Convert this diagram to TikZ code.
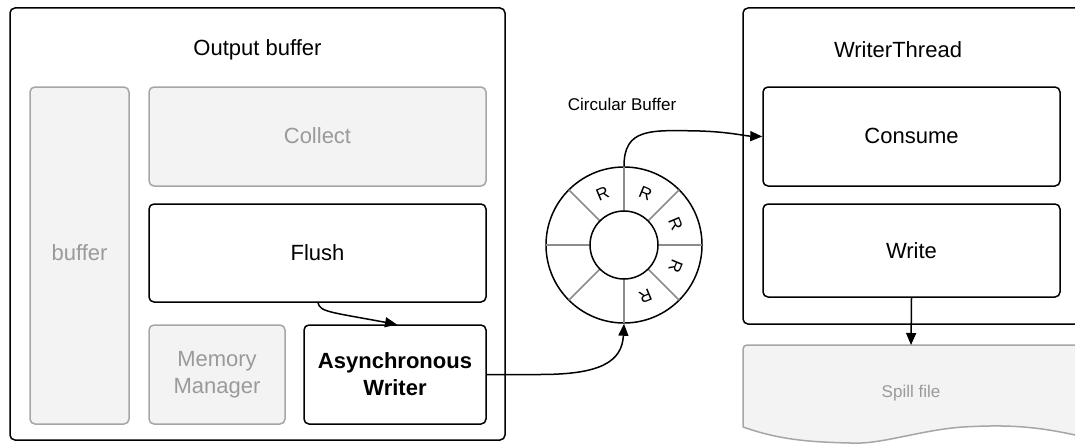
\documentclass[tikz,border=0pt]{standalone}
\usepackage{fontspec}
\setmainfont{Liberation Sans}
\usetikzlibrary{arrows.meta,calc}
\definecolor{lgfill}{HTML}{F3F3F3}
\definecolor{lgline}{HTML}{A6A6A6}
\definecolor{lgtext}{HTML}{9A9A9A}
\definecolor{spoke}{HTML}{8C8C8C}
\begin{document}
\begin{tikzpicture}[x=1pt,y=-1pt,
  bigfont/.style={font=\fontsize{22}{27}\selectfont},
  outerbox/.style={draw=black, line width=1.5pt, rounded corners=5pt, fill=white},
  blackbox/.style={draw=black, line width=1.5pt, rounded corners=5pt, fill=white, bigfont, align=center, inner sep=0pt},
  graybox/.style={draw=lgline, line width=1.5pt, rounded corners=5pt, fill=lgfill, text=lgtext, bigfont, align=center, inner sep=0pt},
  conn/.style={line width=1.5pt, -{Triangle[length=12pt,width=10pt]}},
  rlabel/.style={font=\fontsize{17}{17}\selectfont, inner sep=0pt}
]
\clip (0,0) rectangle (1075,444);
\fill[white] (0,0) rectangle (1075,444);

% Output buffer
\draw[outerbox] (10,8) rectangle (505,440);
\node[bigfont] (obtitle) at (257.5,50) {Output buffer};
\node[graybox, minimum width=99pt, minimum height=337pt] (buffer) at (79.5,255.5) {\raisebox{6pt}{buffer}};
\node[graybox, minimum width=337pt, minimum height=99pt] (collect) at (317.5,136.5) {\raisebox{2pt}{Collect}};
\node[blackbox, minimum width=337pt, minimum height=98pt] (flush) at (317.5,253) {\raisebox{1pt}{Flush}};
\node[graybox, minimum width=136pt, minimum height=99pt] (mem) at (217,374.5) {Memory\\Manager};
\node[blackbox, minimum width=182pt, minimum height=99pt, font=\fontsize{22}{27}\selectfont\bfseries] (async) at (395,374.5) {Asynchronous\\Writer};

% WriterThread
\draw[outerbox] (743,8) rectangle (1090,324);
\node[bigfont] (wttitle) at (898,50) {WriterThread};
\node[blackbox, minimum width=297pt, minimum height=99pt] (consume) at (911.5,136.5) {\raisebox{2pt}{Consume}};
\node[blackbox, minimum width=297pt, minimum height=93pt] (write) at (911.5,250.5) {Write};

% Spill file
\draw[draw=lgline, line width=1.5pt, fill=lgfill, rounded corners=4pt]
  (743,427) -- (743,345) -- (1090,345) -- (1090,440)
  [sharp corners] -- (1075,435) .. controls (1030,425) and (1000,425) .. (963,427)
  .. controls (920,430) and (880,445) .. (850,443)
  .. controls (810,442) and (780,440) .. (743,427);
\node[font=\fontsize{17}{17}\selectfont, text=lgtext] (spill) at (911,393) {Spill file};
\coordinate (spilltop) at (911,345);

% Circular buffer
\node[font=\fontsize{17}{17}\selectfont] (cbtitle) at (622,104) {Circular Buffer};
\node[circle, draw=black, line width=1.5pt, minimum size=156pt, inner sep=0pt, fill=white] (cb) at (624,245) {};
\foreach \a in {0,45,...,315}{
  \draw[spoke, line width=1.5pt] (cb.center) ++(\a:34pt) -- ++(\a:44pt);
}
\node[circle, draw=black, line width=1.5pt, minimum size=68pt, inner sep=0pt, fill=white] (cbin) at (cb.center) {};
\foreach \a/\n in {112.5/r1,67.5/r2,22.5/r3,-22.5/r4,-67.5/r5}{
  \pgfmathsetmacro{\rot}{\a-90}
  \node[rlabel, rotate=\rot] (\n) at ($(cb.center)+(\a:56pt)$) {R};
}

% connectors
\draw[conn] (flush.south -| 318,0) .. controls (320,312) and (330,312) .. (397,324.5);
\draw[conn] (async.east) -- (540,374.5) .. controls (600,374.5) and (622,362) .. (cb.south);
\draw[conn] (cb.north) .. controls (624,128) and (650,130) .. (700,131) .. controls (730,132) and (745,136) .. (consume.west);
\draw[conn] (write.south) -- (spilltop);
\end{tikzpicture}
\end{document}
